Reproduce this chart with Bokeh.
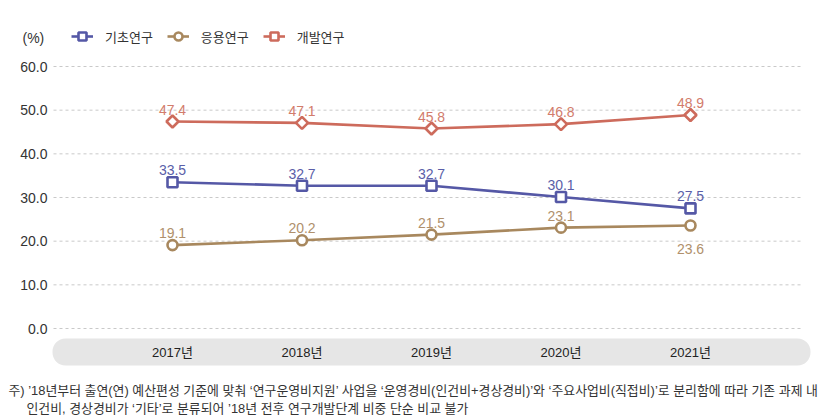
import math
from bokeh.plotting import figure
from bokeh.models import Range1d, Legend, LegendItem, BoxAnnotation, ColumnDataSource
from bokeh.core.properties import value
from bokeh.embed import file_html
from bokeh.resources import INLINE

# ---------------- data ----------------
years = [2017, 2018, 2019, 2020, 2021]
year_labels = ["2017년", "2018년", "2019년", "2020년", "2021년"]
basic = [33.5, 32.7, 32.7, 30.1, 27.5]      # 기초연구
applied = [19.1, 20.2, 21.5, 23.1, 23.6]    # 응용연구
develop = [47.4, 47.1, 45.8, 46.8, 48.9]    # 개발연구
series_names = ["기초연구", "응용연구", "개발연구"]
y_ticks = [0, 10, 20, 30, 40, 50, 60]
unit_label = "(%)"
note_lines = [
    "주) ’18년부터 출연(연) 예산편성 기준에 맞춰 ‘연구운영비지원’ 사업을 ‘운영경비(인건비+경상경비)’와 ‘주요사업비(직접비)’로 분리함에 따라 기존 과제 내",
    "인건비, 경상경비가 ‘기타’로 분류되어 ’18년 전후 연구개발단계 비중 단순 비교 불가",
]

# ---------------- style / layout ----------------
NUM_FONT = "Liberation Sans"
KR_FONT = "Noto Sans CJK KR"
MIX_FONT = "Liberation Sans, Noto Sans CJK KR"
line_colors = ["#5558a6", "#a8885e", "#cd6b5c"]
label_colors = ["#5a5ea8", "#b0906c", "#d27c6c"]
markers = ["square", "circle", "square"]
marker_sizes = [10, 10, 8.5]
marker_angles = [0, 0, math.pi / 4]
label_offsets = [            # px, + is downward
    [-12, -12, -12, -12, -12],
    [-12, -12, -12, -12, 24],
    [-12, -12, -12, -12, -12],
]

W, H = 827, 419
# pixel layout of the scales: first year at px 172, 129.5 px per year;
# value 0 at px 328, 262 px per 60 units
X_PX0, X_PPU = 172.0, 129.5
Y_PX0, Y_PPU = 328.0, 262.0 / 60.0


def dx(px):
    return years[0] + (px - X_PX0) / X_PPU


def dy(py):
    return (Y_PX0 - py) / Y_PPU


p = figure(width=W, height=H, output_backend="svg", toolbar_location=None,
           x_range=Range1d(dx(0), dx(W)), y_range=Range1d(dy(H), dy(0)),
           min_border=0, min_border_left=0, min_border_right=0,
           min_border_top=0, min_border_bottom=0)
p.outline_line_color = None
p.background_fill_color = "white"
p.border_fill_color = "white"
p.grid.visible = False
p.axis.visible = False

# gridlines (dashed) and y tick labels
p.segment(x0=[dx(53)] * len(y_ticks), x1=[dx(800)] * len(y_ticks), y0=y_ticks, y1=y_ticks,
          line_color="#c9c9c9", line_width=1, line_dash="3 3")
p.text(x=[dx(47)] * len(y_ticks), y=y_ticks, text=[f"{t:.1f}" for t in y_ticks],
       text_align="right", text_baseline="middle", text_font=value(NUM_FONT),
       text_font_size="14px", text_color="#333333")
p.text(x=[dx(22)], y=[dy(37)], text=[unit_label], text_align="left", text_baseline="middle",
       text_font=value(NUM_FONT), text_font_size="14px", text_color="#333333")

# category band with year labels
band = BoxAnnotation(left=dx(52), right=dx(810), bottom=dy(365), top=dy(338),
                     fill_color="#e6e6e6", fill_alpha=1.0, line_color=None,
                     border_radius=13, level="underlay")
p.add_layout(band)
p.text(x=years, y=[dy(352)] * len(years), text=year_labels, text_align="center",
       text_baseline="middle", text_font=value(MIX_FONT), text_font_size="13px",
       text_color="#222222")

items = []
for i, vals in enumerate([basic, applied, develop]):
    src = ColumnDataSource(dict(x=years, y=vals, lab=[f"{v:.1f}" for v in vals],
                                off=label_offsets[i]))
    lr = p.line("x", "y", source=src, line_color=line_colors[i], line_width=2.6)
    sr = p.scatter("x", "y", source=src, marker=markers[i], size=marker_sizes[i],
                   angle=marker_angles[i], fill_color="white",
                   line_color=line_colors[i], line_width=2.6)
    p.text("x", "y", text="lab", source=src, y_offset="off", text_align="center",
           text_baseline="alphabetic", text_font=value(NUM_FONT), text_font_size="14px",
           text_color=label_colors[i])
    items.append(LegendItem(label=series_names[i], renderers=[lr, sr]))

legend = Legend(items=items, orientation="horizontal", location=(71, H - 26 - 20),
                margin=0, padding=0, glyph_width=22, glyph_height=20,
                label_standoff=12, spacing=14, border_line_color=None,
                background_fill_alpha=0, label_text_font=KR_FONT,
                label_text_font_size="13px", label_text_color="#333333")
p.add_layout(legend)

# footnote
p.text(x=[dx(8), dx(26)], y=[dy(390), dy(408)], text=note_lines, text_align="left",
       text_baseline="middle", text_font=value(MIX_FONT), text_font_size="12.9px",
       text_color="#333333")

open("out.html", "w").write(file_html(p, INLINE))
